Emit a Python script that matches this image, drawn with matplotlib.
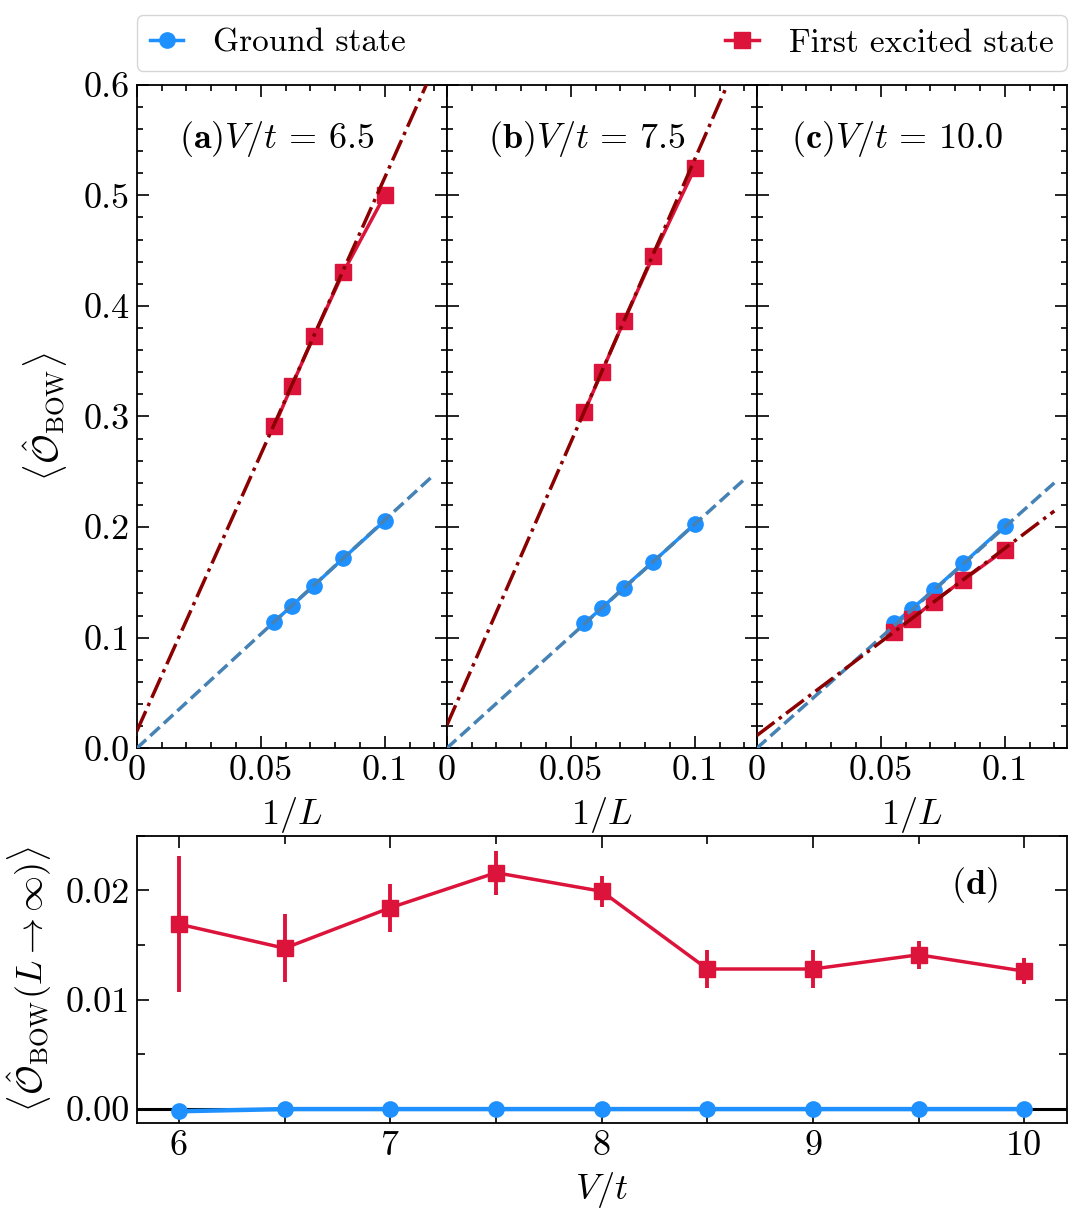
import numpy as np
import matplotlib
matplotlib.use("Agg")
import matplotlib.pyplot as plt
from matplotlib.ticker import MultipleLocator, FixedLocator, FixedFormatter

plt.rcParams['font.family'] = 'serif'
plt.rcParams['font.serif'] = ['cmr10']
plt.rcParams['mathtext.fontset'] = 'cm'
plt.rcParams['axes.unicode_minus'] = False
plt.rcParams['axes.linewidth'] = 1.3

# system sizes used in the finite size scaling
L_sizes = [18, 16, 14, 12, 10]

# panel values of V/t
panel_V = [6.5, 7.5, 10.0]
panel_tags = ['a', 'b', 'c']

# order parameter for each L (same order as L_sizes)
ground_vals = [
    [0.1146, 0.1288, 0.1471, 0.1718, 0.2058],
    [0.1132, 0.1267, 0.1453, 0.1688, 0.2028],
    [0.1132, 0.1260, 0.1432, 0.1673, 0.2010],
]
excited_vals = [
    [0.2915, 0.3276, 0.3727, 0.4305, 0.5000],
    [0.3043, 0.3400, 0.3861, 0.4454, 0.5244],
    [0.1056, 0.1168, 0.1327, 0.1523, 0.1793],
]

# linear extrapolation lines: intercept, slope
ground_fit = [(0.0, 2.063), (0.0, 2.026), (0.0, 2.000)]
excited_fit = [(0.0153, 5.006), (0.0205, 5.12), (0.0115, 1.692)]

# extrapolated values vs V/t
V_t = [6, 6.5, 7, 7.5, 8, 8.5, 9, 9.5, 10]
ground_inf = [-0.0002, 0.0, 0.0, 0.0, 0.0, 0.0, 0.0, 0.0, 0.0]
excited_inf = [0.0169, 0.0147, 0.0184, 0.0216, 0.0199, 0.0128, 0.0128, 0.0141, 0.0126]
excited_inf_err = [0.0062, 0.0031, 0.0022, 0.0020, 0.0014, 0.0017, 0.0017, 0.0013, 0.0012]

# tick labels
top_xticks = [0, 0.05, 0.1]
top_xlabels = ['0', '0.05', '0.1']
top_yticks = [0, 0.1, 0.2, 0.3, 0.4, 0.5, 0.6]
top_ylabels = ['0.0', '0.1', '0.2', '0.3', '0.4', '0.5', '0.6']
bot_yticks = [0, 0.01, 0.02]
bot_ylabels = ['0.00', '0.01', '0.02']

blue = 'dodgerblue'
red = 'crimson'
LW = 2.5
MS = 11

fig = plt.figure(figsize=(10.82, 12.26), dpi=100)

W, H = 1082.0, 1226.0
left = 136.7 / W
pw = 310.0 / W
top_bottom = 1 - 748.3 / H
top_h = (748.3 - 84.7) / H

inv_L = 1.0 / np.array(L_sizes)
x_fit = np.linspace(0, 0.12, 50)

axes_top = []
for i in range(3):
    ax = fig.add_axes([left + i * pw, top_bottom, pw, top_h])
    axes_top.append(ax)

    # data points with connecting lines
    ax.plot(inv_L, ground_vals[i], '-o', color=blue, lw=LW, ms=MS, zorder=3)
    ax.plot(inv_L, excited_vals[i], '-s', color=red, lw=LW, ms=MS, zorder=3)

    # extrapolation lines
    b0, m0 = ground_fit[i]
    ax.plot(x_fit, b0 + m0 * x_fit, '--', color='steelblue', lw=LW, zorder=4)
    b1, m1 = excited_fit[i]
    ax.plot(x_fit, b1 + m1 * x_fit, '-.', color='darkred', lw=LW, zorder=4)

    ax.set_xlim(0, 0.125)
    ax.set_ylim(0, 0.6)
    ax.xaxis.set_major_locator(FixedLocator(top_xticks))
    ax.xaxis.set_major_formatter(FixedFormatter(top_xlabels))
    ax.xaxis.set_minor_locator(MultipleLocator(0.01))
    ax.yaxis.set_major_locator(FixedLocator(top_yticks))
    ax.yaxis.set_minor_locator(MultipleLocator(0.02))
    ax.tick_params(which='both', direction='in', top=True, right=True, labelsize=26, width=1.2)
    ax.tick_params(which='major', length=8.5, pad=5)
    ax.tick_params(which='minor', length=4.5)
    ax.set_xlabel(r'$1/L$', fontsize=26, labelpad=6)
    if i == 0:
        ax.yaxis.set_major_formatter(FixedFormatter(top_ylabels))
        ax.set_ylabel(r'$\langle \hat{\mathcal{O}}_{\mathrm{BOW}} \rangle$', fontsize=26, labelpad=10)
    else:
        ax.tick_params(labelleft=False)

    ax.text(0.452, 0.918, r'$(\mathbf{%s})V/t\,=\,%.1f$' % (panel_tags[i], panel_V[i]),
            transform=ax.transAxes, ha='center', va='center', fontsize=26)

# bottom panel
axd = fig.add_axes([left, 1 - 1123.3 / H, 930.0 / W, (1123.3 - 835.5) / H])
axd.axhline(0, color='k', lw=2.2, zorder=1)
axd.errorbar(V_t, excited_inf, yerr=excited_inf_err, fmt='-s', color=red, lw=LW,
             elinewidth=2.8, ms=MS, capsize=0, zorder=3)
axd.plot(V_t, ground_inf, '-o', color=blue, lw=3.2, ms=MS, zorder=4)
axd.set_xlim(5.8, 10.2)
axd.set_ylim(-0.0013, 0.025)
axd.xaxis.set_major_locator(MultipleLocator(1))
axd.xaxis.set_minor_locator(MultipleLocator(0.5))
axd.yaxis.set_major_locator(FixedLocator(bot_yticks))
axd.yaxis.set_major_formatter(FixedFormatter(bot_ylabels))
axd.yaxis.set_minor_locator(MultipleLocator(0.005))
axd.tick_params(which='both', direction='in', top=True, right=True, labelsize=26, width=1.2)
axd.tick_params(which='major', length=8.5, pad=5)
axd.tick_params(which='minor', length=6)
axd.set_xlabel(r'$V/t$', fontsize=26, labelpad=6)
axd.set_ylabel(r'$\langle \hat{\mathcal{O}}_{\mathrm{BOW}}(L\rightarrow\infty) \rangle$', fontsize=26, labelpad=8)
axd.text(0.901, 0.828, r'$(\mathbf{d})$', transform=axd.transAxes, ha='center', va='center', fontsize=26)

# legend across the top
h1, = axes_top[0].plot([], [], '-o', color=blue, lw=LW, ms=MS)
h2, = axes_top[0].plot([], [], '-s', color=red, lw=LW, ms=MS)
fig.legend([h1, h2], ['Ground state', 'First excited state'], ncol=2, mode='expand',
           loc='lower left', bbox_to_anchor=(left, 1 - 71.0 / H, 930.0 / W, 57.0 / H),
           borderaxespad=0, fontsize=24, handlelength=1.0, handletextpad=0.9,
           frameon=True, fancybox=True)

fig.savefig('out.png', dpi=100)
